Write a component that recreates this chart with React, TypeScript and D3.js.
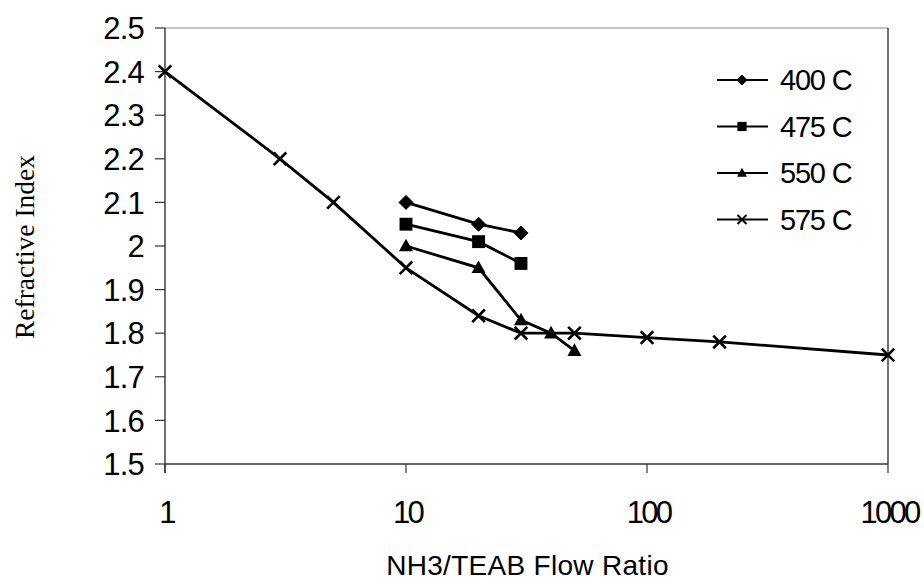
import React from 'react';
import * as d3 from 'd3';

// flow ratio (NH3/TEAB) and refractive index, per deposition temperature
const ratios400 = [10, 20, 30];
const index400 = [2.1, 2.05, 2.03];
const ratios475 = [10, 20, 30];
const index475 = [2.05, 2.01, 1.96];
const ratios550 = [10, 20, 30, 40, 50];
const index550 = [2.0, 1.95, 1.83, 1.8, 1.76];
const ratios575 = [1, 3, 5, 10, 20, 30, 50, 100, 200, 1000];
const index575 = [2.4, 2.2, 2.1, 1.95, 1.84, 1.8, 1.8, 1.79, 1.78, 1.75];

const seriesNames = ['400 C', '475 C', '550 C', '575 C'];
const seriesMarkers = ['diamond', 'square', 'triangle', 'cross'];
const xTicks = [1, 10, 100, 1000];
const yTicks = [1.5, 1.6, 1.7, 1.8, 1.9, 2.0, 2.1, 2.2, 2.3, 2.4, 2.5];

const W = 924;
const H = 582;
const margin = { left: 165, right: 36, top: 28, bottom: 118 };

const x = d3.scaleLog().domain([1, 1000]).range([margin.left, W - margin.right]);
const y = d3.scaleLinear().domain([1.5, 2.5]).range([H - margin.bottom, margin.top]);

const series = [
  { name: seriesNames[0], marker: seriesMarkers[0], xs: ratios400, ys: index400 },
  { name: seriesNames[1], marker: seriesMarkers[1], xs: ratios475, ys: index475 },
  { name: seriesNames[2], marker: seriesMarkers[2], xs: ratios550, ys: index550 },
  { name: seriesNames[3], marker: seriesMarkers[3], xs: ratios575, ys: index575 },
];

const line = d3
  .line<[number, number]>()
  .x((d) => x(d[0]))
  .y((d) => y(d[1]));

const Marker = ({ kind, cx, cy, s, sw }: { kind: string; cx: number; cy: number; s: number; sw: number }) => {
  if (kind === 'diamond') {
    const r = s * 0.5;
    return <path d={`M${cx},${cy - r}L${cx + r},${cy}L${cx},${cy + r}L${cx - r},${cy}Z`} fill="#000" stroke="#000" strokeWidth={1} strokeLinejoin="round" />;
  }
  if (kind === 'square') {
    const r = s * 0.46;
    return <rect x={cx - r} y={cy - r} width={2 * r} height={2 * r} fill="#000" />;
  }
  if (kind === 'triangle') {
    const r = s * 0.5;
    return <path d={`M${cx},${cy - r * 1.05}L${cx + r},${cy + r * 0.75}L${cx - r},${cy + r * 0.75}Z`} fill="#000" />;
  }
  const r = s * 0.45;
  return (
    <path
      d={`M${cx - r},${cy - r}L${cx + r},${cy + r}M${cx - r},${cy + r}L${cx + r},${cy - r}`}
      stroke="#000"
      strokeWidth={sw}
      fill="none"
    />
  );
};

export default function App() {
  const x0 = margin.left;
  const x1 = W - margin.right;
  const y0 = H - margin.bottom;
  const y1 = margin.top;
  const numFont = '"Liberation Sans", Arial, sans-serif';

  return (
    <div style={{ position: 'absolute', left: 0, top: 0 }}>
      <svg width={W} height={H} style={{ display: 'block', background: '#fff' }}>
        {/* frame */}
        <line x1={x0} x2={x1} y1={y1} y2={y1} stroke="#888" strokeWidth={1.2} />
        <line x1={x1} x2={x1} y1={y1} y2={y0} stroke="#111" strokeWidth={1.2} />
        <line x1={x0} x2={x1} y1={y0} y2={y0} stroke="#333" strokeWidth={1.4} />
        <line x1={x0} x2={x0} y1={y1} y2={y0 + 9} stroke="#333" strokeWidth={1.4} />

        {/* y axis */}
        {yTicks.map((t) => (
          <g key={t}>
            <line x1={x0 - 10} x2={x0} y1={y(t)} y2={y(t)} stroke="#333" strokeWidth={1.2} />
            <text
              x={x0 - 21}
              y={y(t)}
              dy="0.36em"
              textAnchor="end"
              fontFamily={numFont}
              fontSize={31}
              letterSpacing={-0.8}
              fill="#000"
            >
              {d3.format('')(+t.toFixed(1))}
            </text>
          </g>
        ))}

        {/* x axis */}
        {xTicks.map((t) => (
          <g key={t}>
            <line x1={x(t)} x2={x(t)} y1={y0} y2={y0 + 9} stroke="#333" strokeWidth={1.2} />
            <text
              x={x(t) + 1.5}
              y={523}
              textAnchor="middle"
              fontFamily={numFont}
              fontSize={31}
              letterSpacing={-2.8}
              fill="#000"
            >
              {t}
            </text>
          </g>
        ))}

        {/* axis titles */}
        <text
          x={(x0 + x1) / 2 + 1}
          y={575}
          textAnchor="middle"
          fontFamily={numFont}
          fontSize={28}
          letterSpacing={0.3}
          fill="#000"
        >
          NH3/TEAB Flow Ratio
        </text>
        <text
          transform={`translate(34,${(y0 + y1) / 2 + 1}) rotate(-90)`}
          textAnchor="middle"
          fontFamily='"Liberation Serif", "Times New Roman", serif'
          fontSize={27.5}
          fill="#000"
        >
          Refractive Index
        </text>

        {/* series */}
        {series.map((s) => {
          const pts = s.xs.map((v, i) => [v, s.ys[i]] as [number, number]);
          return (
            <g key={s.name}>
              <path d={line(pts) || ''} fill="none" stroke="#000" strokeWidth={2.8} />
              {pts.map((p, i) => (
                <Marker key={i} kind={s.marker} cx={x(p[0])} cy={y(p[1])} s={14} sw={2.6} />
              ))}
            </g>
          );
        })}

        {/* legend */}
        {series.map((s, i) => {
          const ly = 80 + i * 46.5;
          return (
            <g key={s.name}>
              <line x1={717} x2={768} y1={ly} y2={ly} stroke="#000" strokeWidth={1.8} />
              <Marker kind={s.marker} cx={742} cy={ly} s={10} sw={2} />
              <text
                x={780}
                y={ly}
                dy="0.36em"
                fontFamily={numFont}
                fontSize={29}
                letterSpacing={-1.2}
                fill="#000"
              >
                {s.name}
              </text>
            </g>
          );
        })}
      </svg>
    </div>
  );
}
